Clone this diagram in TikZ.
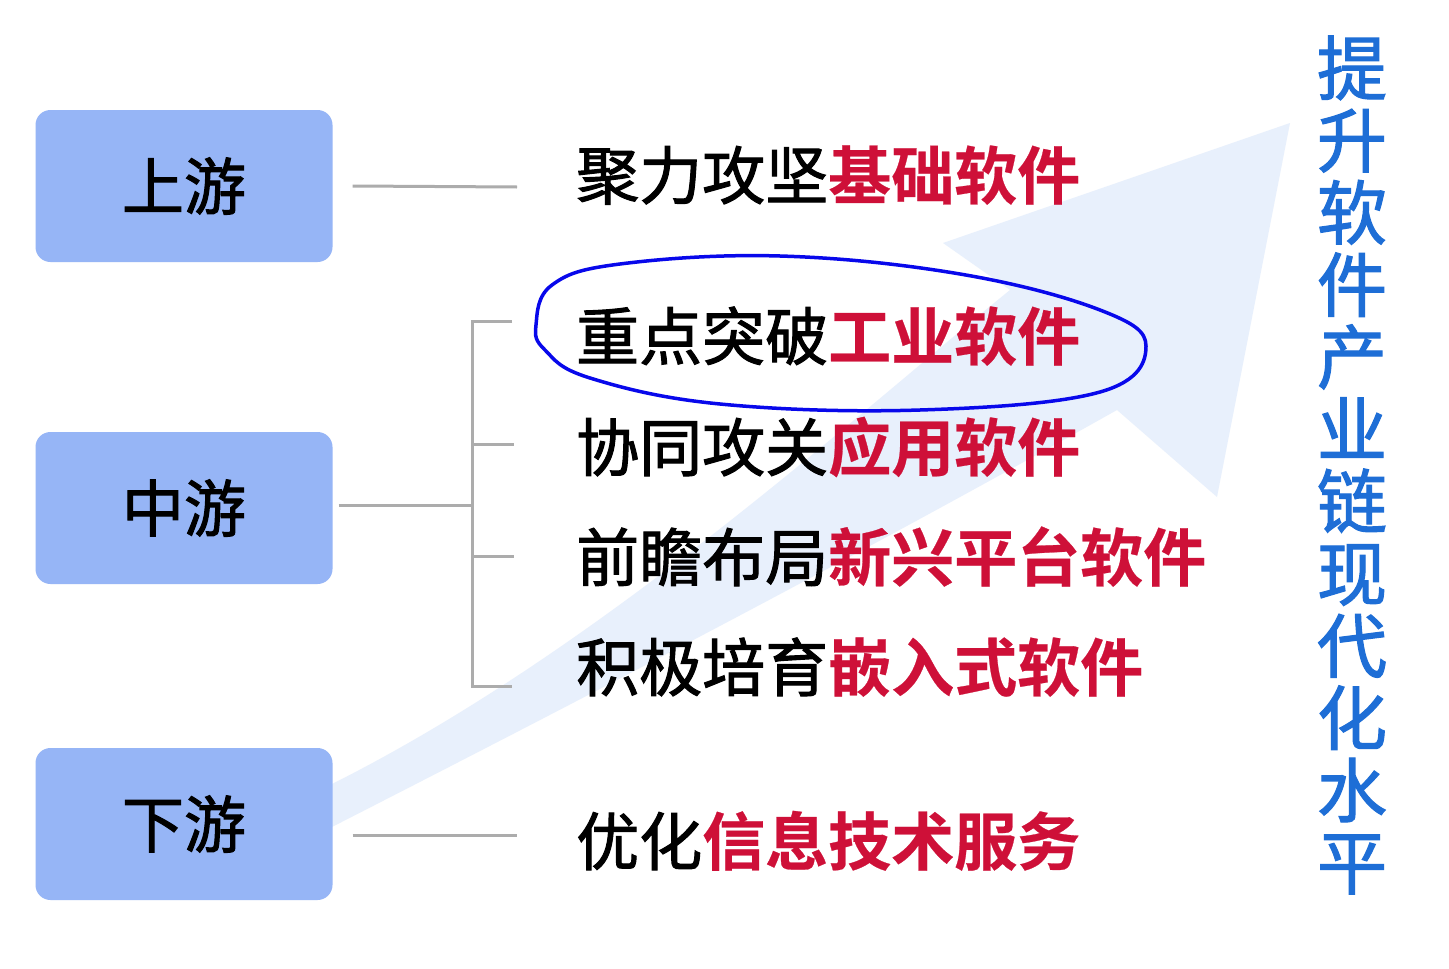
\documentclass[tikz,border=0pt]{standalone}
\usepackage{fontspec}
\newfontfamily\cjk[FakeBold=1.6]{Noto Sans CJK SC}
\newfontfamily\cjkhl{Noto Sans CJK SC Bold}[FakeBold=0.4]
\definecolor{boxblue}{RGB}{150,181,246}
\definecolor{arrowblue}{RGB}{232,240,252}
\definecolor{linegray}{RGB}{172,172,172}
\definecolor{hired}{RGB}{206,16,56}
\definecolor{vblue}{RGB}{30,110,214}
\definecolor{penblue}{RGB}{8,8,235}
\newcommand\hlt[1]{{\cjkhl\color{hired}#1}}
\begin{document}
\begin{tikzpicture}[x=1pt,y=-1pt,
  stagebox/.style={fill=boxblue,rounded corners=15pt,minimum width=297pt,minimum height=152pt,inner sep=0pt,font=\cjk\fontsize{62}{62}\selectfont,text=black},
  item/.style={anchor=base west,inner sep=0pt,font=\cjk\fontsize{63}{63}\selectfont,text=black},
  conn/.style={draw=linegray,line width=3pt}]
\useasboundingbox (0,0) rectangle (1449,969);
\fill[white] (0,0) rectangle (1449,969);
% big pale arrow
\fill[arrowblue] (330,785) .. controls (600,650) and (850,420) .. (1010,290)
  -- (943,243) -- (1290,123) -- (1217,497) -- (1117,410)
  .. controls (850,560) and (600,690) .. (330,828) -- cycle;
% stage boxes
\node[stagebox] (up) at (184,186) {上游};
\node[stagebox] (mid) at (184,508) {中游};
\node[stagebox] (down) at (184,824) {下游};
% items
\node[item] (t1) at (576,199) {聚力攻坚\hlt{基础软件}};
\node[item] (t2) at (576,360) {重点突破\hlt{工业软件}};
\node[item] (t3) at (576,471) {协同攻关\hlt{应用软件}};
\node[item] (t4) at (576,581) {前瞻布局\hlt{新兴平台软件}};
\node[item] (t5) at (576,691) {积极培育\hlt{嵌入式软件}};
\node[item] (t6) at (576,865) {优化\hlt{信息技术服务}};
% connectors
\coordinate (e1) at (517,187);
\coordinate (e6) at (517,835);
\coordinate (bt) at (472,321);
\coordinate (bb) at (472,686);
\coordinate (b2) at (512,321);
\coordinate (b3) at (514,444);
\coordinate (b4) at (514,556);
\coordinate (b5) at (512,686);
\draw[conn] ([xshift=20pt]up.east) -- (e1);
\draw[conn] ([xshift=20pt]down.east |- e6) -- (e6);
\draw[conn] ([xshift=6pt]mid.east |- 0,505) -- (472,505);
\draw[conn] (b2) -- (bt) -- (bb) -- (b5);
\draw[conn] (bt |- b3) -- (b3);
\draw[conn] (bt |- b4) -- (b4);
% hand-drawn ellipse
\draw[penblue,line width=3.5pt] plot[smooth cycle,tension=0.65] coordinates {
  (536,325) (552,285) (620,264) (780,256) (960,274) (1100,310) (1146,346) (1100,392)
  (920,410) (720,404) (590,378) (545,350)};
% vertical title
\node[font=\cjk\fontsize{70}{72.2}\selectfont,text=vblue,align=center,inner sep=0pt] (title) at (1352,465)
  {提\\升\\软\\件\\产\\业\\链\\现\\代\\化\\水\\平};
\end{tikzpicture}
\end{document}
